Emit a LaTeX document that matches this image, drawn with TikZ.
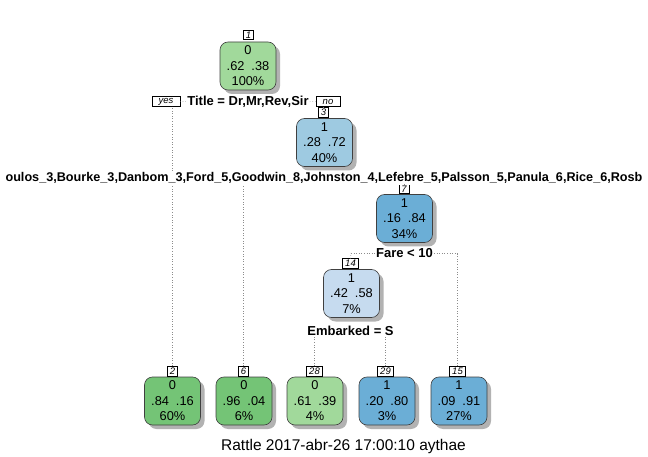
\documentclass[tikz,border=0pt]{standalone}
\usepackage{fontspec}
\setmainfont{Liberation Sans}
\usetikzlibrary{shadows}
\definecolor{gA}{HTML}{A1D99B}
\definecolor{gB}{HTML}{74C476}
\definecolor{bA}{HTML}{9ECAE1}
\definecolor{bB}{HTML}{6BAED6}
\definecolor{bC}{HTML}{C6DBEF}
\begin{document}
\begin{tikzpicture}[x=1pt,y=-1pt,
 tnode/.style={draw=black!75, line width=0.6pt, rounded corners=8pt, minimum width=56pt, minimum height=48pt, inner sep=0pt, align=center, font=\fontsize{12.8}{15.5}\selectfont, drop shadow={shadow xshift=4pt,shadow yshift=-4pt,fill=black!30,opacity=1}},
 idbox/.style={draw=black, fill=white, line width=0.5pt, inner xsep=2.5pt, inner ysep=0.5pt, minimum height=9.5pt, font=\fontsize{9.5}{10}\selectfont\itshape},
 yn/.style={idbox, inner xsep=6.5pt},
 split/.style={font=\fontsize{13}{15}\selectfont\bfseries, inner sep=1pt, fill=white},
 br/.style={draw=black!45, dotted, line width=0.6pt}]
\useasboundingbox (0,0) rectangle (648,457);
% tree nodes
\node[tnode, fill=gA] (n1) at (248,66) {0\\.62\hspace{7pt}.38\\100\%};
\node[tnode, fill=bA] (n3) at (324.5,142.5) {1\\.28\hspace{7pt}.72\\40\%};
\node[tnode, fill=bB] (n7) at (404.5,218.5) {1\\.16\hspace{7pt}.84\\34\%};
\node[tnode, fill=bC] (n14) at (351.5,293.5) {1\\.42\hspace{7pt}.58\\7\%};
\node[tnode, fill=gB] (n2) at (172.5,401) {0\\.84\hspace{7pt}.16\\60\%};
\node[tnode, fill=gB] (n6) at (244,401) {0\\.96\hspace{7pt}.04\\6\%};
\node[tnode, fill=gA] (n28) at (315,401) {0\\.61\hspace{7pt}.39\\4\%};
\node[tnode, fill=bB] (n29) at (387,401) {1\\.20\hspace{7pt}.80\\3\%};
\node[tnode, fill=bB] (n15) at (459,401) {1\\.09\hspace{7pt}.91\\27\%};
% id labels
\node[idbox] (l1) at (248.5,35) {1};
\node[idbox] (l3) at (323.5,112.5) {3};
\node[idbox] (l7) at (404,189) {7};
\node[idbox] (l14) at (350.5,263.5) {14};
\node[idbox] (l2) at (172.5,371) {2};
\node[idbox] (l6) at (243.5,371) {6};
\node[idbox] (l28) at (314.5,371) {28};
\node[idbox] (l29) at (385.5,371) {29};
\node[idbox] (l15) at (457.5,371) {15};
% yes / no
\node[yn] (yes) at (166,101.5) {yes};
\node[yn] (no) at (328,101.5) {no};
% branches
\draw[br] (l2.north) -- (l2.north |- yes.south);
\draw[br] (l3.north) -- (l3.north |- no.south);
\draw[br] (l6.north) -- (l6.north |- 0,178);
\coordinate (c14) at (351,253);
\coordinate (c15) at (457.5,253);
\draw[br] (l14.north) -- (c14);
\draw[br] (l15.north) -- (c15);
\draw[br] (l28.north) -- (l28.north |- 0,331);
\draw[br] (l29.north) -- (l29.north |- 0,331);
% split labels
\node[split] (s1) at (248,102) {Title = Dr,Mr,Rev,Sir};
\node[split, inner xsep=0pt, anchor=center, font=\fontsize{12.65}{15}\selectfont\bfseries] (s3) at (324,178) {oulos\_3,Bourke\_3,Danbom\_3,Ford\_5,Goodwin\_8,Johnston\_4,Lefebre\_5,Palsson\_5,Panula\_6,Rice\_6,Rosb};
\node[split] (s7) at (404.5,253) {Fare < 10};
\node[split] (s14) at (350.5,331) {Embarked = S};
\draw[br] (yes) -- (s1);
\draw[br] (s1) -- (no);
\draw[br] (c14) -- (s7);
\draw[br] (s7) -- (c15);
\draw[br] (l7.north) -- (l7.north |- s3.south);
% caption
\node[font=\fontsize{15.5}{18}\selectfont] (cap) at (343.5,446) {Rattle 2017-abr-26 17:00:10 aythae};
\end{tikzpicture}
\end{document}
